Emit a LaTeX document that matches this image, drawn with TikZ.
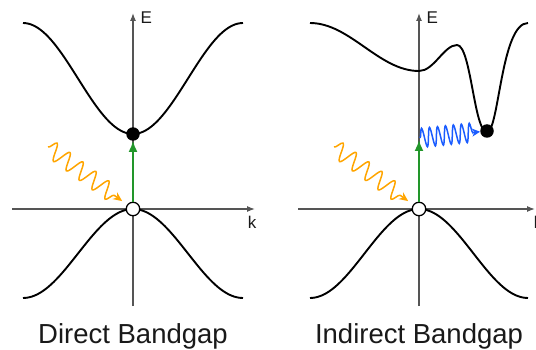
\documentclass[tikz,border=0pt]{standalone}
\usepackage{fontspec}
\setmainfont{Liberation Sans}
\usetikzlibrary{arrows.meta,decorations.pathmorphing}
\definecolor{photon}{HTML}{FFA500}
\definecolor{phonon}{HTML}{1A5CFF}
\definecolor{excite}{HTML}{22962A}
\definecolor{axisgray}{HTML}{555555}

\begin{document}
\begin{tikzpicture}[x=1pt,y=-1pt,
    axis/.style={draw=axisgray,line width=1.3pt,-{Latex[length=8pt,width=6pt]}},
    band/.style={line width=1.9pt},
    elec/.style={circle,fill=black,inner sep=0pt,minimum size=13.5pt},
    hole/.style={circle,draw=black,line width=1.3pt,fill=white,inner sep=0pt,minimum size=13.5pt},
    excitation/.style={draw=excite,line width=1.6pt,-{Latex[length=11pt,width=9pt]}},
    photonwave/.style={draw=photon,line width=1.5pt,-{Stealth[length=9pt,width=8pt]},
      decorate,decoration={snake,segment length=16pt,amplitude=8.5pt,post length=12pt},shorten >=6pt},
    phononwave/.style={draw=phonon,line width=1.5pt,-{Stealth[length=8pt,width=8pt]},
      decorate,decoration={snake,segment length=8pt,amplitude=9.5pt,post length=7pt}},
    axlabel/.style={font=\fontsize{17}{19}\selectfont,text=black!90},
    title/.style={font=\fontsize{27.5}{30}\selectfont,text=black!90,anchor=base}]
  \useasboundingbox (0,0) rectangle (536,350);
  % Direct bandgap
  \begin{scope}[shift={(133,209)}]
    \draw[axis] (-121,0) -- (122,0);
    \draw[axis] (0,97) -- (0,-196);
    \node[axlabel,anchor=west] (Ed) at (4,-191) {E};
    \node[axlabel] (kd) at (119,13) {k};
    \draw[band] plot[domain=-110:110,samples=80] (\x,{-186+111*(1+cos(\x/110*180))/2});
    \draw[band] plot[domain=-110:110,samples=80] (\x,{89*(1-cos(\x/110*180))/2});
    \node[elec] (ed) at (0,-75) {};
    \node[hole] (hd) at (0,0) {};
    \coordinate (pd) at (-85,-62);
    \draw[excitation] (hd) -- (ed);
    \draw[photonwave] (pd) -- (hd);
    \node[title] (td) at (0,134) {Direct Bandgap};
  \end{scope}
  % Indirect bandgap
  \begin{scope}[shift={(419,209)}]
    \draw[axis] (-121,0) -- (116,0);
    \draw[axis] (0,97) -- (0,-196);
    \node[axlabel,anchor=west] (Ei) at (4,-191) {E};
    \node[axlabel] (ki) at (119,13) {k};
    \draw[band] (-109,-186) .. controls (-69,-186) and (-40,-138) .. (0,-138)
      .. controls (15,-138) and (25,-164) .. (38,-164)
      .. controls (52,-164) and (55,-77) .. (68,-77)
      .. controls (80,-77) and (82,-186) .. (109,-186);
    \draw[band] plot[domain=-109:109,samples=80] (\x,{89*(1-cos(\x/109*180))/2});
    \node[elec] (ei) at (68,-78) {};
    \node[hole] (hi) at (0,0) {};
    \coordinate (vi) at (0,-69);
    \coordinate (qi) at (1,-71);
    \coordinate (pi) at (-85,-62);
    \draw[excitation] (hi) -- (vi);
    \draw[phononwave] (qi) -- (ei);
    \draw[photonwave] (pi) -- (hi);
    \node[title] (ti) at (0,134) {Indirect Bandgap};
  \end{scope}
\end{tikzpicture}
\end{document}
